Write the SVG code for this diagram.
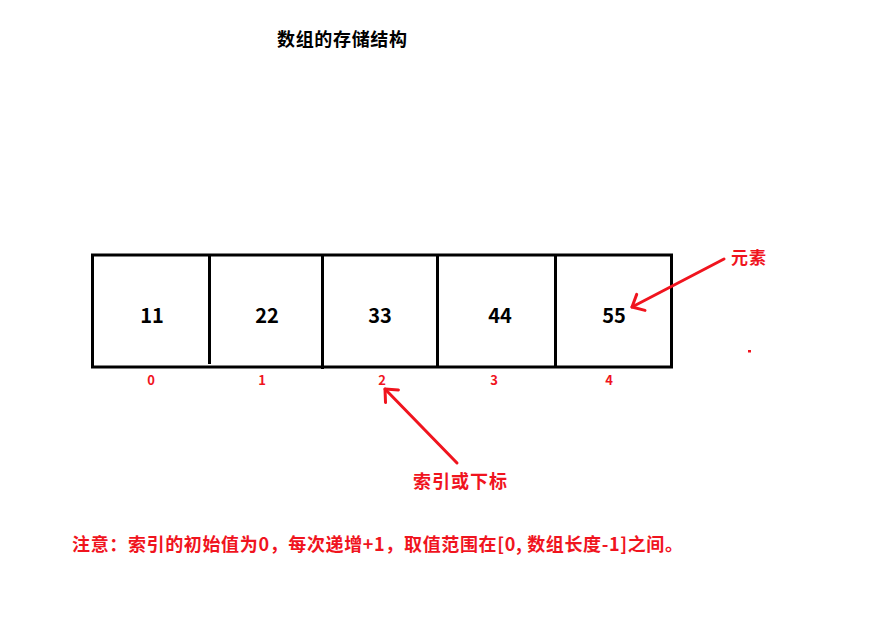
<svg xmlns="http://www.w3.org/2000/svg" width="870" height="622" viewBox="0 0 870 622">
<style>
text{font-family:"Noto Sans CJK SC","Noto Sans",sans-serif;font-weight:bold}
.title{font-size:18px;fill:#000}
.val{font-size:20px;fill:#000;text-anchor:middle}
.idx{font-size:13px;fill:#F0141E;text-anchor:middle}
.red{fill:#F0141E}
.lbl{font-size:18px}
.frame{fill:none;stroke:#000;stroke-width:3}
.conn{stroke:#F0141E;stroke-width:3;fill:none;stroke-linecap:round}
</style>
<defs>
<marker id="vh" markerUnits="userSpaceOnUse" viewBox="-14 -12 18 24" refX="0" refY="0" markerWidth="18" markerHeight="24" orient="auto">
<path d="M -10 -9 L 0 0 L -10 9" fill="none" stroke="#F0141E" stroke-width="3" stroke-linecap="round" stroke-linejoin="round"/>
</marker>
</defs>
<rect width="870" height="622" fill="#fff"/>
<g id="title"><text class="title" x="277" y="46" textLength="130">数组的存储结构</text></g>
<g id="array">
<rect class="frame" x="92.5" y="255" width="579" height="112"/>
<line class="frame" x1="209.5" y1="255" x2="209.5" y2="364"/>
<line class="frame" x1="322.5" y1="255" x2="322.5" y2="369"/>
<line class="frame" x1="437.5" y1="255" x2="437.5" y2="367"/>
<line class="frame" x1="555.5" y1="255" x2="555.5" y2="367"/>
</g>
<g id="cell0"><text class="val" x="152" y="323">11</text><text class="idx" x="151" y="385">0</text></g>
<g id="cell1"><text class="val" x="267" y="323">22</text><text class="idx" x="262" y="385">1</text></g>
<g id="cell2"><text class="val" x="380" y="323">33</text><text class="idx" x="382" y="385">2</text></g>
<g id="cell3"><text class="val" x="500" y="323">44</text><text class="idx" x="494" y="385">3</text></g>
<g id="cell4"><text class="val" x="614" y="323">55</text><text class="idx" x="609" y="385">4</text></g>
<g id="label-element"><text class="red" x="731" y="264" font-size="17" textLength="35">元素</text></g>
<g id="label-index"><text class="red lbl" x="413" y="488" textLength="94">索引或下标</text></g>
<g id="dot"><rect class="red" x="748" y="350" width="3" height="2.5"/></g>
<g id="connectors">
<line class="conn" x1="724" y1="259" x2="632" y2="307" marker-end="url(#vh)"/>
<line class="conn" x1="457" y1="463" x2="385" y2="389" marker-end="url(#vh)"/>
</g>
<g id="note"><text class="red lbl" x="72" y="551" textLength="611">注意：索引的初始值为0，每次递增+1，取值范围在[0, 数组长度-1]之间。</text></g>
</svg>
